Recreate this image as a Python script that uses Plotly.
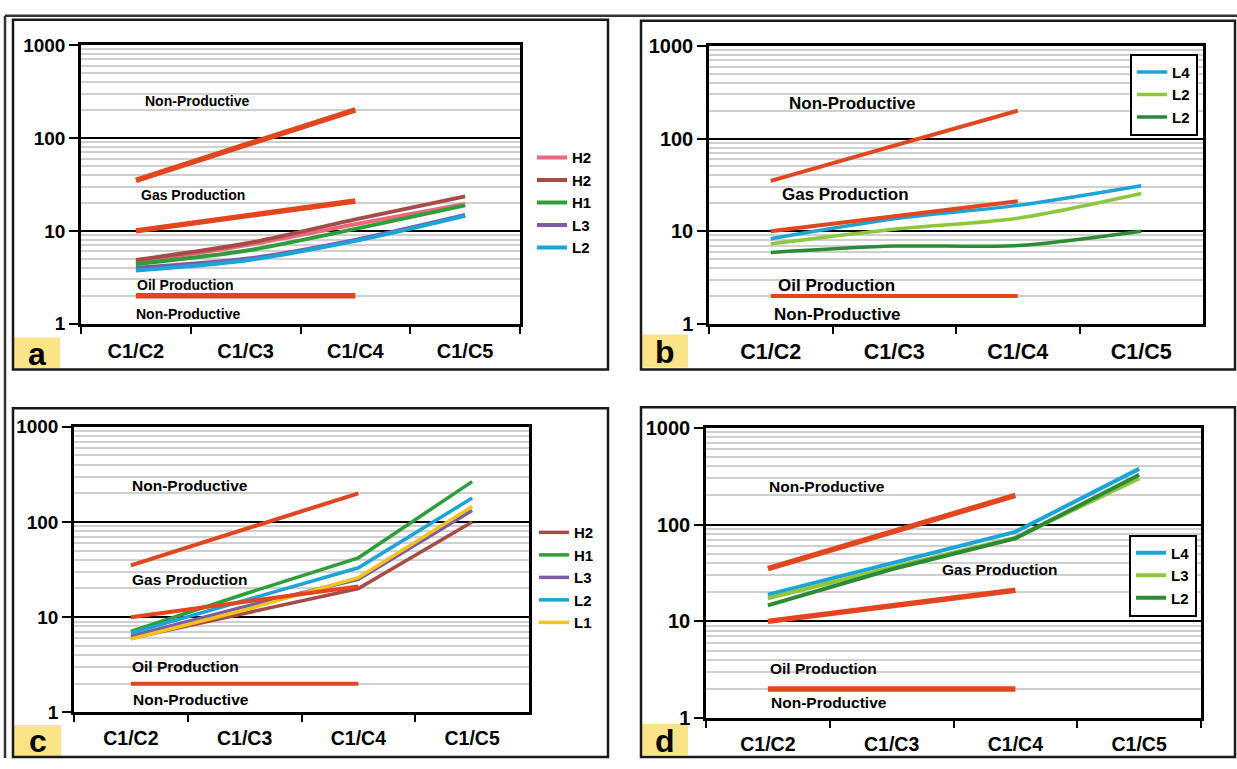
import plotly.graph_objects as go

W, H = 1237, 769

# ---------------- data ----------------
cats = ["C1/C2", "C1/C3", "C1/C4", "C1/C5"]
ref_cats = ["C1/C2", "C1/C3", "C1/C4"]
ref_upper = [35, 84, 200]      # Non-Productive / Gas boundary
ref_middle = [10, 14.5, 21]    # Gas / Oil boundary
ref_lower = [2, 2, 2]          # Oil / Non-Productive boundary

# panel a
a_names = ["H2", "H2", "H1", "L3", "L2"]
a_H2_pink = [4.6, 7.0, 11.8, 19.5]
a_H2_brown = [4.85, 7.3, 13.3, 23.5]
a_H1 = [4.4, 6.1, 10.5, 18.8]
a_L3 = [4.0, 5.0, 8.0, 14.8]
a_L2 = [3.75, 4.8, 7.8, 14.5]

# panel b
b_names = ["L4", "L2", "L2"]
b_L4 = [8.3, 13.6, 19.0, 31.0]
b_L2_light = [7.3, 10.5, 13.8, 25.5]
b_L2_dark = [5.9, 6.9, 7.0, 10.0]

# panel c
c_names = ["H2", "H1", "L3", "L2", "L1"]
c_H2 = [6.0, 11.0, 20.0, 100.0]
c_H1 = [7.1, 17.5, 42.0, 265.0]
c_L3 = [6.3, 12.9, 25.0, 132.0]
c_L2 = [6.8, 15.0, 33.0, 178.0]
c_L1 = [5.9, 11.9, 26.0, 145.0]

# panel d
d_names = ["L4", "L3", "L2"]
d_L4 = [18.9, 40.0, 84.0, 376.0]
d_L3 = [17.3, 36.0, 73.0, 300.0]
d_L2 = [14.6, 34.5, 72.0, 327.0]

y_ticks = [1, 10, 100, 1000]
y_ticktext = ["1", "10", "100", "1000"]
minor_vals = [m * 10 ** e for e in range(3) for m in range(2, 10)]

# ---------------- styles ----------------
RED = "#E2461E"
PINK = "#E8697D"
BROWN = "#A64B45"
GREEN = "#2E9E3A"
PURPLE = "#7D5BA6"
BLUE = "#1CA3D8"
YELLOW = "#F2C41A"
LGREEN = "#8DC63F"
DGREEN = "#2E8B35"
LABEL_BG = "#FBE487"

REG = "Liberation Sans, Arial, sans-serif"


def px(x):
    return x / W


def py(y):
    return 1 - y / H


fig = go.Figure()

panels = {
    # key: (axis suffix, plot x0, x1, y top, y bottom) in pixels
    "a": ("", 81, 520, 35, 322),
    "b": ("2", 709, 1203, 36, 322),
    "c": ("3", 74, 529, 428, 722),
    "d": ("4", 706, 1201, 429, 728),
}

red_width = {"a": 5.5, "b": 4, "c": 4, "d": 5.5}
samples = {
    "a": [(a_names[0], a_H2_pink, PINK), (a_names[1], a_H2_brown, BROWN),
          (a_names[2], a_H1, GREEN), (a_names[3], a_L3, PURPLE),
          (a_names[4], a_L2, BLUE)],
    "b": [(b_names[0], b_L4, BLUE), (b_names[1], b_L2_light, LGREEN),
          (b_names[2], b_L2_dark, DGREEN)],
    "c": [(c_names[0], c_H2, BROWN), (c_names[1], c_H1, GREEN),
          (c_names[2], c_L3, PURPLE), (c_names[3], c_L2, BLUE),
          (c_names[4], c_L1, YELLOW)],
    "d": [(d_names[0], d_L4, BLUE), (d_names[1], d_L3, LGREEN),
          (d_names[2], d_L2, DGREEN)],
}
shape_kind = {"a": "spline", "b": "spline", "c": "linear", "d": "linear"}
sample_width = {"a": 4, "b": 3.5, "c": 3.5, "d": 4}

xlab_font = {"a": 20, "b": 21.5, "c": 19.5, "d": 19.5}
ylab_font = {"a": 19, "b": 20, "c": 19, "d": 20}

layout_axes = {}
for key, (sfx, x0, x1, y0, y1) in panels.items():
    xa = "x" + sfx
    ya = "y" + sfx
    leg = "legend" + sfx
    for name, vals, col in samples[key]:
        fig.add_trace(go.Scatter(
            x=cats, y=vals, mode="lines", name=name,
            line=dict(color=col, width=sample_width[key], shape=shape_kind[key], smoothing=0.8),
            xaxis=xa, yaxis=ya, legend=leg, hoverinfo="skip"))
    for vals in (ref_upper, ref_middle, ref_lower):
        fig.add_trace(go.Scatter(
            x=ref_cats, y=vals, mode="lines", showlegend=False,
            line=dict(color=RED, width=red_width[key], shape=shape_kind[key], smoothing=0.6),
            xaxis=xa, yaxis=ya, hoverinfo="skip"))

    layout_axes["xaxis" + sfx] = dict(
        domain=[px(x0), px(x1)], anchor=ya, type="category",
        categoryorder="array", categoryarray=cats, range=[-0.5, 3.5],
        showgrid=False, showline=True, mirror=True, linecolor="black", linewidth=2.5,
        ticks="outside", tickson="boundaries", ticklen=7, tickwidth=2, tickcolor="black",
        ticklabelstandoff=7,
        tickfont=dict(family=REG, size=xlab_font[key], color="black", weight="bold"),
        zeroline=False, fixedrange=True)
    layout_axes["yaxis" + sfx] = dict(
        domain=[py(y1), py(y0)], anchor=xa, type="log", range=[0, 3],
        tickvals=y_ticks, ticktext=y_ticktext,
        showgrid=True, gridcolor="black", gridwidth=1.6,
        showline=True, mirror=True, linecolor="black", linewidth=2.5,
        ticks="outside", ticklen=9, tickwidth=1.6, tickcolor="black",
        tickfont=dict(family=REG, size=ylab_font[key], color="black", weight="bold"),
        minor=dict(tickvals=minor_vals, showgrid=True, gridcolor="#cfcfcf", gridwidth=2, ticks=""),
        zeroline=False, fixedrange=True)

# ---------------- legends ----------------
LEGFONT = dict(family=REG, size=15, color="black", weight="bold")
legends = dict(
    legend=dict(x=px(532), y=py(134), xanchor="left", yanchor="top", font=LEGFONT,
                bgcolor="rgba(0,0,0,0)", borderwidth=0, itemwidth=30, tracegroupgap=0),
    legend2=dict(x=px(1130), y=py(44), xanchor="left", yanchor="top", font=LEGFONT,
                 bgcolor="white", bordercolor="black", borderwidth=2, itemwidth=30),
    legend3=dict(x=px(534), y=py(520), xanchor="left", yanchor="top", font=LEGFONT,
                 bgcolor="rgba(0,0,0,0)", borderwidth=0, itemwidth=30),
    legend4=dict(x=px(1129), y=py(539), xanchor="left", yanchor="top", font=LEGFONT,
                 bgcolor="white", bordercolor="black", borderwidth=2, itemwidth=30),
)

# ---------------- zone annotations ----------------
zone_text = {
    # key: list of (text, left px, center y px), font size
    "a": ([("Non-Productive", 143, 93), ("Gas Production", 139, 189),
           ("Oil Production", 135, 282), ("Non-Productive", 134, 312)], 14),
    "b": ([("Non-Productive", 787, 95), ("Gas Production", 780, 189),
           ("Oil Production", 776, 283), ("Non-Productive", 772, 312)], 17),
    "c": ([("Non-Productive", 130, 488), ("Gas Production", 130, 585),
           ("Oil Production", 130, 675), ("Non-Productive", 131, 709)], 15.5),
    "d": ([("Non-Productive", 767, 490), ("Gas Production", 940, 575),
           ("Oil Production", 768, 677), ("Non-Productive", 769, 712)], 15.5),
}
annotations = []
for key, (items, size) in zone_text.items():
    for text, lx, cy in items:
        annotations.append(dict(
            text=text, x=px(lx), y=py(cy), xref="paper", yref="paper",
            xanchor="left", yanchor="middle", showarrow=False,
            font=dict(family=REG, size=size, color="black", weight="bold")))

# ---------------- frames and panel labels ----------------
frames = [(13, 9, 608, 369), (641, 10, 1235, 369), (13, 409, 608, 768), (641, 408, 1235, 768)]
label_boxes = [("a", 14, 336, 60, 368), ("b", 642, 333, 688, 367),
               ("c", 14, 735, 61, 767), ("d", 642, 734, 688, 766)]
shapes = []
for (lbl, x0, y0, x1, y1) in label_boxes:
    shapes.append(dict(type="rect", xref="paper", yref="paper",
                       x0=px(x0), x1=px(x1), y0=py(y1), y1=py(y0),
                       fillcolor=LABEL_BG, line=dict(width=0), layer="below"))
    annotations.append(dict(text=lbl, x=px((x0 + x1) / 2), y=py((y0 + y1) / 2 + 1),
                            xref="paper", yref="paper", showarrow=False,
                            xanchor="center", yanchor="middle",
                            font=dict(family=REG, size=32, color="black", weight="bold")))
for (x0, y0, x1, y1) in frames:
    shapes.append(dict(type="rect", xref="paper", yref="paper",
                       x0=px(x0), x1=px(x1), y0=py(y1), y1=py(y0),
                       line=dict(color="#1a1a1a", width=2.5), fillcolor="rgba(0,0,0,0)"))
# outer figure border lines
shapes.append(dict(type="line", xref="paper", yref="paper", x0=px(5), x1=px(1237),
                   y0=py(5), y1=py(5), line=dict(color="#333333", width=2.5)))
shapes.append(dict(type="line", xref="paper", yref="paper", x0=px(5), x1=px(5),
                   y0=py(5), y1=py(769), line=dict(color="#333333", width=2.5)))

fig.update_layout(
    width=W, height=H, margin=dict(l=0, r=0, t=0, b=0),
    paper_bgcolor="white", plot_bgcolor="white",
    showlegend=True, annotations=annotations, shapes=shapes,
    **layout_axes, **legends)

fig.write_html("out.html", config={"displayModeBar": False},
               post_script="document.body.style.margin='0px';")
